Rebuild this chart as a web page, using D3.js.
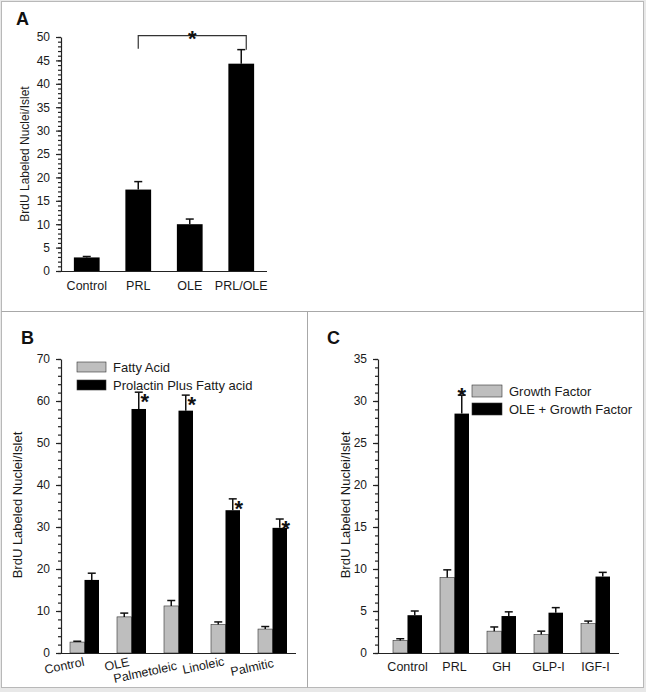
<!DOCTYPE html>
<html>
<head>
<meta charset="utf-8">
<script src="https://cdn.jsdelivr.net/npm/d3@7"></script>
<style>
  body { margin: 0; background: #e8e8e8; }
  svg { display: block; font-family: "Liberation Sans", Arial, sans-serif; }
</style>
</head>
<body>
<div id="chart"></div>
<script>
// Panel A data
const catsA = ["Control", "PRL", "OLE", "PRL/OLE"];
const valsA = [2.9, 17.4, 10.0, 44.3];
const semA = [0.2, 1.7, 1.1, 3.0];

// Panel B data
const catsB = ["Control", "OLE", "Palmetoleic", "Linoleic", "Palmitic"];
const fattyB = [2.6, 8.6, 11.2, 6.8, 5.7];
const fattySemB = [0.2, 0.9, 1.3, 0.6, 0.6];
const prlB = [17.4, 58.1, 57.7, 34.0, 29.8];
const prlSemB = [1.6, 4.0, 3.7, 2.7, 2.1];
const sigB = [false, true, true, true, true];
const legendB = ["Fatty Acid", "Prolactin Plus Fatty acid"];

// Panel C data
const catsC = ["Control", "PRL", "GH", "GLP-I", "IGF-I"];
const gfC = [1.5, 9.0, 2.6, 2.2, 3.5];
const gfSemC = [0.2, 0.9, 0.5, 0.4, 0.3];
const oleC = [4.5, 28.5, 4.4, 4.8, 9.1];
const oleSemC = [0.5, 2.2, 0.5, 0.6, 0.5];
const sigC = [false, true, false, false, false];
const legendC = ["Growth Factor", "OLE + Growth Factor"];

const yTitle = "BrdU Labeled Nuclei/Islet";
const gray = "#bebebe";

const svg = d3.select("#chart").append("svg")
  .attr("width", 646).attr("height", 692);

// frame
svg.append("rect").attr("x", 0).attr("y", 0).attr("width", 646).attr("height", 692).attr("fill", "#e8e8e8");
svg.append("rect").attr("x", 1.5).attr("y", 1.5).attr("width", 642).attr("height", 686)
  .attr("fill", "#fff").attr("stroke", "#b8b8b8").attr("stroke-width", 1);
svg.append("line").attr("x1", 1.5).attr("x2", 643.5).attr("y1", 311.5).attr("y2", 311.5).attr("stroke", "#a8a8a8");
svg.append("line").attr("x1", 307.5).attr("x2", 307.5).attr("y1", 311.5).attr("y2", 687.5).attr("stroke", "#a8a8a8");

function yAxis(y, axisX, major, minor, domainTop) {
  const g = svg.append("g").attr("transform", "translate(" + axisX + ",0)");
  g.append("g")
    .call(d3.axisLeft(y).tickValues(d3.range(0, domainTop + 0.01, minor)).tickSize(3).tickFormat(""))
    .call(a => a.select(".domain").remove());
  const ax = g.append("g")
    .call(d3.axisLeft(y).tickValues(d3.range(0, domainTop + 0.01, major)).tickSize(5).tickPadding(6).tickSizeOuter(0));
  ax.selectAll("text").attr("font-size", 12).attr("fill", "#1a1a1a").attr("font-family", "Liberation Sans, Arial, sans-serif");
  ax.selectAll("line, path").attr("stroke", "#222").attr("stroke-width", 1.2);
  g.selectAll("line").attr("stroke", "#222").attr("stroke-width", 1.2);
}

function errBar(cx, top, capHalf) {
  svg.append("line").attr("x1", cx).attr("x2", cx).attr("y1", top[0]).attr("y2", top[1])
    .attr("stroke", "#111").attr("stroke-width", 1.5);
  svg.append("line").attr("x1", cx - capHalf).attr("x2", cx + capHalf).attr("y1", top[1]).attr("y2", top[1])
    .attr("stroke", "#111").attr("stroke-width", 1.5);
}

function star(x, y) {
  svg.append("text").attr("x", x).attr("y", y).attr("text-anchor", "middle")
    .attr("font-size", 22).attr("font-weight", "bold").attr("fill", "#111").text("*");
}

function title(x, y, size) {
  svg.append("text").attr("transform", "translate(" + x + "," + y + ") rotate(-90)")
    .attr("text-anchor", "middle").attr("font-size", size).attr("fill", "#1a1a1a").text(yTitle);
}

function letter(x, y, t) {
  svg.append("text").attr("x", x).attr("y", y).attr("font-size", 18).attr("font-weight", "bold")
    .attr("fill", "#111").text(t);
}

// ---------------- Panel A ----------------
{
  const yA = d3.scaleLinear().domain([0, 50]).range([271, 37]);
  const xA = d3.scaleBand().domain(catsA).range([61, 267]).paddingInner(0.5).paddingOuter(0.25);

  catsA.forEach((c, i) => {
    svg.append("rect").attr("x", xA(c)).attr("y", yA(valsA[i]))
      .attr("width", xA.bandwidth()).attr("height", yA(0) - yA(valsA[i])).attr("fill", "#000");
    errBar(xA(c) + xA.bandwidth() / 2, [yA(valsA[i]), yA(valsA[i] + semA[i])], 4);
  });

  yAxis(yA, 61, 5, 1, 50);
  const xa = svg.append("g").attr("transform", "translate(0,271)")
    .call(d3.axisBottom(xA).tickSize(0).tickPadding(10));
  xa.select(".domain").attr("d", "M61,0.5H267").attr("stroke", "#222").attr("stroke-width", 1.2);
  xa.selectAll("text").attr("font-size", 12.5).attr("fill", "#1a1a1a").attr("font-family", "Liberation Sans, Arial, sans-serif");

  // significance bracket PRL vs PRL/OLE
  const x1 = xA("PRL") + xA.bandwidth() / 2, x2 = xA("PRL/OLE") + xA.bandwidth() / 2 + 5;
  svg.append("path")
    .attr("d", "M" + x1 + "," + yA(47.5) + "V" + yA(50.3) + "H" + x2 + "V" + yA(47.3))
    .attr("fill", "none").attr("stroke", "#333").attr("stroke-width", 1.2);
  star((x1 + x2) / 2, 46);

  title(29, 154, 12);
  letter(16, 25, "A");
}

// ---------------- Panel B ----------------
{
  const yB = d3.scaleLinear().domain([0, 70]).range([653, 359]);
  const xB = d3.scaleBand().domain(catsB).range([61, 296]);
  const bw = 14.5;

  catsB.forEach((c, i) => {
    const mid = xB(c) + xB.bandwidth() / 2;
    svg.append("rect").attr("x", mid - bw).attr("y", yB(fattyB[i]))
      .attr("width", bw).attr("height", yB(0) - yB(fattyB[i]))
      .attr("fill", gray).attr("stroke", "#333").attr("stroke-width", 0.6);
    svg.append("rect").attr("x", mid).attr("y", yB(prlB[i]))
      .attr("width", bw).attr("height", yB(0) - yB(prlB[i])).attr("fill", "#000");
    errBar(mid - bw / 2, [yB(fattyB[i]), yB(fattyB[i] + fattySemB[i])], 4);
    errBar(mid + bw / 2, [yB(prlB[i]), yB(prlB[i] + prlSemB[i])], 4);
    if (sigB[i]) star(mid + bw / 2 + 6, yB(prlB[i] + prlSemB[i]) + 17);
  });

  yAxis(yB, 61, 10, 2, 70);
  svg.append("line").attr("x1", 61).attr("x2", 296).attr("y1", 653.5).attr("y2", 653.5)
    .attr("stroke", "#222").attr("stroke-width", 1.2);

  // hand placed, slanted category labels (offsets from the group centre)
  const labelShift = [[-39, 674], [-26, 671], [-64, 683], [-42, 674], [-41, 676]];
  catsB.forEach((c, i) => {
    const mid = xB(c) + xB.bandwidth() / 2;
    svg.append("text")
      .attr("transform", "translate(" + (mid + labelShift[i][0]) + "," + labelShift[i][1] + ") rotate(-12)")
      .attr("font-size", 12.5).attr("fill", "#1a1a1a").text(c);
  });

  // legend
  [gray, "#000"].forEach((col, i) => {
    svg.append("rect").attr("x", 77).attr("y", 362 + i * 18).attr("width", 29).attr("height", 10)
      .attr("fill", col).attr("stroke", "#333").attr("stroke-width", 0.6);
    svg.append("text").attr("x", 113).attr("y", 372 + i * 18).attr("font-size", 13)
      .attr("fill", "#1a1a1a").text(legendB[i]);
  });

  title(22, 505, 13);
  letter(21, 344, "B");
}

// ---------------- Panel C ----------------
{
  const yC = d3.scaleLinear().domain([0, 35]).range([653, 359]);
  const xC = d3.scaleBand().domain(catsC).range([384, 619]);
  const bw = 14.5;

  catsC.forEach((c, i) => {
    const mid = xC(c) + xC.bandwidth() / 2;
    svg.append("rect").attr("x", mid - bw).attr("y", yC(gfC[i]))
      .attr("width", bw).attr("height", yC(0) - yC(gfC[i]))
      .attr("fill", gray).attr("stroke", "#333").attr("stroke-width", 0.6);
    svg.append("rect").attr("x", mid).attr("y", yC(oleC[i]))
      .attr("width", bw).attr("height", yC(0) - yC(oleC[i])).attr("fill", "#000");
    errBar(mid - bw / 2, [yC(gfC[i]), yC(gfC[i] + gfSemC[i])], 4);
    errBar(mid + bw / 2, [yC(oleC[i]), yC(oleC[i] + oleSemC[i])], 4);
    if (sigC[i]) star(mid + bw / 2, yC(oleC[i] + oleSemC[i]) + 8);
  });

  yAxis(yC, 378, 5, 1, 35);
  const xc = svg.append("g").attr("transform", "translate(0,653)")
    .call(d3.axisBottom(xC).tickSize(0).tickPadding(9));
  xc.select(".domain").attr("d", "M378,0.5H619").attr("stroke", "#222").attr("stroke-width", 1.2);
  xc.selectAll("text").attr("font-size", 12.5).attr("fill", "#1a1a1a").attr("font-family", "Liberation Sans, Arial, sans-serif");

  [gray, "#000"].forEach((col, i) => {
    svg.append("rect").attr("x", 472).attr("y", 385 + i * 18).attr("width", 30).attr("height", 12)
      .attr("fill", col).attr("stroke", "#333").attr("stroke-width", 0.6);
    svg.append("text").attr("x", 509).attr("y", 396 + i * 18).attr("font-size", 13)
      .attr("fill", "#1a1a1a").text(legendC[i]);
  });

  title(350, 505, 13);
  letter(327, 344, "C");
}
</script>
</body>
</html>
